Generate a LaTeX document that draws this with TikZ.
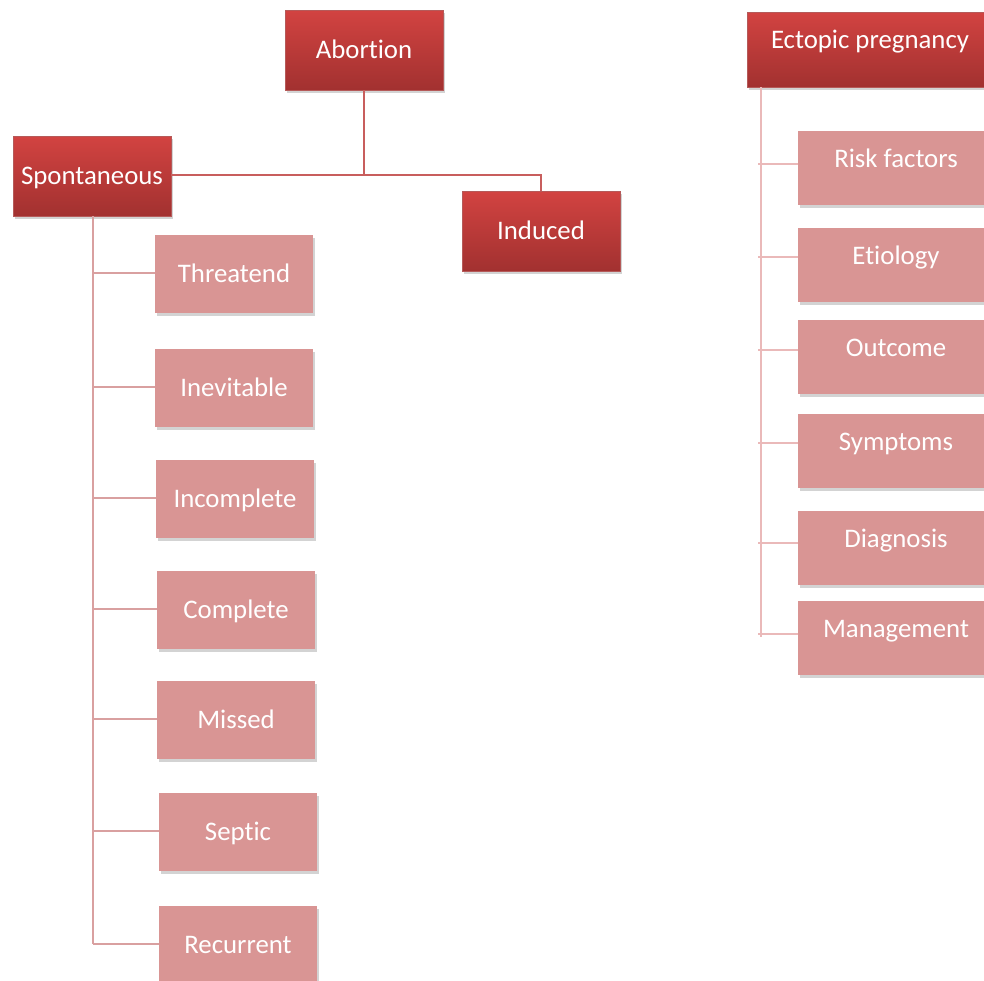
\documentclass[tikz,border=0pt]{standalone}
\usepackage{fontspec}
\setmainfont[Ligatures={NoCommon}]{Carlito}
\usepackage{tikz}
\usetikzlibrary{shadows}
\definecolor{headtop}{HTML}{D24341}
\definecolor{headbot}{HTML}{A23130}
\definecolor{leafpink}{HTML}{D99594}
\definecolor{rootline}{HTML}{C85E5D}
\definecolor{leftline}{HTML}{D9A0A0}
\definecolor{rightline}{HTML}{EAB9B9}

\begin{document}
\begin{tikzpicture}[
    x=1pt, y=-1pt,
    font=\fontsize{26.8}{30}\selectfont,
    head/.style={
		rectangle,
		draw=headbot!80!white,
		top color=headtop,
		bottom color=headbot,
		text=white,
		text centered,
		minimum width=158pt,
		minimum height=80pt,
		text height=20pt,
		text depth=3pt,
		drop shadow={opacity=0.35, shadow xshift=2pt, shadow yshift=-3pt}
	},
	leaf/.style={
		rectangle,
		fill=leafpink,
		text=white,
		text centered,
		minimum width=158pt,
		minimum height=78pt,
		text height=20pt,
		text depth=3pt,
		drop shadow={opacity=0.35, shadow xshift=2pt, shadow yshift=-3pt}
	},
	topbox/.style={
		text height=20pt,
		text depth=22pt
	},
	rootlink/.style={draw=rootline, line width=2pt},
	leftlink/.style={draw=leftline, line width=2pt},
	rightlink/.style={draw=rightline, line width=2pt}
  ]
  \useasboundingbox (0,0) rectangle (984,980);
  \clip (0,0) rectangle (984,980);

    % We start by placing the blocks
  \node [head] (abortion) at (364,50) {Abortion};
  \node [head] (spont) at (92,176) {Spontaneous};
  \node [head] (induced) at (541,231) {Induced};
  \node [head, topbox, minimum width=246pt, minimum height=75pt] (ectopic) at (870,49.5) {Ectopic pregnancy};

  % left column
  \node [leaf] (threat) at (234,274) {Threatend};
  \node [leaf] (inevit) at (234,388) {Inevitable};
  \node [leaf] (incompl) at (235,499) {Incomplete};
  \node [leaf] (compl) at (236,610) {Complete};
  \node [leaf] (missed) at (236,720) {Missed};
  \node [leaf] (septic) at (238,832) {Septic};
  \node [leaf] (recur) at (238,945) {Recurrent};

  % right column
  \node [leaf, topbox, minimum width=196pt, minimum height=74pt] (risk) at (896,168) {Risk factors};
  \node [leaf, topbox, minimum width=196pt, minimum height=74pt] (etio) at (896,265) {Etiology};
  \node [leaf, topbox, minimum width=196pt, minimum height=74pt] (outc) at (896,357) {Outcome};
  \node [leaf, topbox, minimum width=196pt, minimum height=74pt] (sympt) at (896,451) {Symptoms};
  \node [leaf, topbox, minimum width=196pt, minimum height=74pt] (diagn) at (896,548) {Diagnosis};
  \node [leaf, topbox, minimum width=196pt, minimum height=74pt] (manag) at (896,638) {Management};

  % links from the top
  \coordinate (rootjoin) at (364,175);
  \draw [rootlink] (abortion.south) -- (rootjoin);
  \draw [rootlink] (spont.east |- rootjoin) -- (rootjoin) -| (induced.north);

  % spontaneous branch
  \coordinate (spbot) at (93,944);
  \draw [leftlink] (spont.south -| spbot) -- (spbot);
  \foreach \n in {threat,inevit,incompl,compl,missed,septic,recur}
    \draw [leftlink] ([yshift=1pt]\n.west) -- ([yshift=1pt]\n.west -| spbot);

  % ectopic branch
  \coordinate (ecbot) at (761,637);
  \coordinate (ectick) at (758,0);
  \draw [rightlink] (ectopic.south -| ecbot) -- (ecbot);
  \draw [rightlink] (ectick |- 0,164) -- (risk.west |- 0,164);
  \draw [rightlink] (ectick |- 0,257) -- (etio.west |- 0,257);
  \draw [rightlink] (ectick |- 0,350) -- (outc.west |- 0,350);
  \draw [rightlink] (ectick |- 0,443) -- (sympt.west |- 0,443);
  \draw [rightlink] (ectick |- 0,543) -- (diagn.west |- 0,543);
  \draw [rightlink] (ectick |- 0,634) -- (manag.west |- 0,634);

\end{tikzpicture}
\end{document}
